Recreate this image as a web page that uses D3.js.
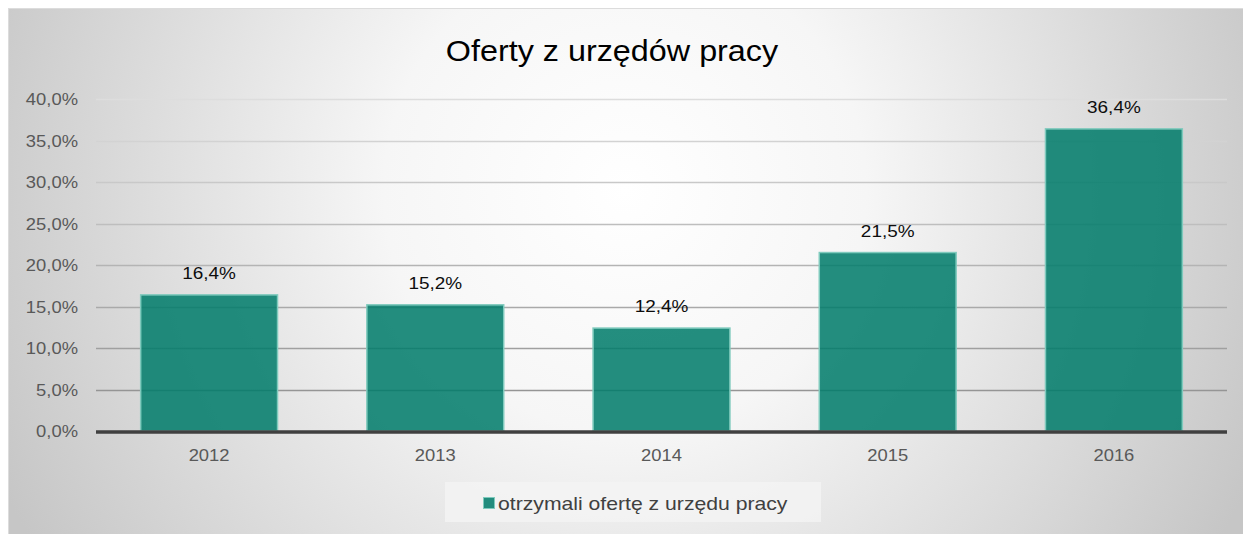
<!DOCTYPE html>
<html>
<head>
<meta charset="utf-8">
<script src="https://cdn.jsdelivr.net/npm/d3@7"></script>
<style>
  html, body { margin: 0; padding: 0; background: #ffffff; }
  svg { display: block; font-family: "Liberation Sans", Arial, sans-serif; }
</style>
</head>
<body>
<svg id="chart" width="1243" height="534"></svg>
<script>
const title = "Oferty z urzędów pracy";
const categories = ["2012", "2013", "2014", "2015", "2016"];
const values = [16.4, 15.2, 12.4, 21.5, 36.4];
const seriesName = "otrzymali ofertę z urzędu pracy";
const yTicks = [0, 5, 10, 15, 20, 25, 30, 35, 40];

const SX = 1.115; // horizontal text stretch seen in the reference
const fmt = v => v.toFixed(1).replace(".", ",") + "%";

const svg = d3.select("#chart");
const defs = svg.append("defs");

const bg = defs.append("radialGradient")
  .attr("id", "bgGrad")
  .attr("gradientUnits", "userSpaceOnUse")
  .attr("cx", 625).attr("cy", 190).attr("r", 690)
  .attr("fx", 625).attr("fy", 190);
bg.append("stop").attr("offset", "0").attr("stop-color", "#ffffff");
bg.append("stop").attr("offset", "0.35").attr("stop-color", "#f6f6f6");
bg.append("stop").attr("offset", "1").attr("stop-color", "#c6c6c6");

const gridGrad = defs.append("linearGradient")
  .attr("id", "gridGrad")
  .attr("gradientUnits", "userSpaceOnUse")
  .attr("x1", 0).attr("y1", 95).attr("x2", 0).attr("y2", 435);
gridGrad.append("stop").attr("offset", "0").attr("stop-color", "#dedede");
gridGrad.append("stop").attr("offset", "1").attr("stop-color", "#8a8a8a");

svg.append("rect")
  .attr("x", 8.5).attr("y", 8.5).attr("width", 1240).attr("height", 530)
  .attr("fill", "url(#bgGrad)")
  .attr("stroke", "#dcdcdc").attr("stroke-width", 1);

const x = d3.scaleBand()
  .domain(categories)
  .range([96, 1227])
  .paddingInner(0.395)
  .paddingOuter(0.1975);

const y = d3.scaleLinear().domain([0, 40]).range([431, 99]);

// gridlines
svg.append("g").selectAll("line")
  .data(yTicks.filter(t => t > 0))
  .join("line")
  .attr("x1", 96).attr("x2", 1227)
  .attr("y1", d => Math.round(y(d)) + 0.5).attr("y2", d => Math.round(y(d)) + 0.5)
  .attr("stroke", "url(#gridGrad)").attr("stroke-width", 1.3);

// y axis labels
const yAxis = d3.axisLeft(y).tickValues(yTicks).tickFormat(fmt).tickSize(0).tickPadding(0);
const yg = svg.append("g").attr("transform", "translate(78,0)").call(yAxis);
yg.select(".domain").remove();
yg.selectAll("text")
  .attr("font-family", "Liberation Sans, Arial, sans-serif")
  .attr("font-size", "16.5px")
  .attr("fill", "#595959")
  .attr("x", 0)
  .attr("dy", "0.35em")
  .attr("transform", `scale(${SX},1)`);

// bars
svg.append("g").selectAll("rect")
  .data(values)
  .join("rect")
  .attr("x", (d, i) => x(categories[i]))
  .attr("width", x.bandwidth())
  .attr("y", d => y(d))
  .attr("height", d => y(0) - y(d))
  .attr("fill", "rgb(0,123,106)")
  .attr("fill-opacity", 0.86)
  .attr("stroke", "#7fcabd")
  .attr("stroke-width", 1.5);

// data labels
svg.append("g").selectAll("text")
  .data(values)
  .join("text")
  .attr("transform", (d, i) => `translate(${x(categories[i]) + x.bandwidth() / 2},${y(d) - 16}) scale(${SX},1)`)
  .attr("text-anchor", "middle")
  .attr("font-size", "17px")
  .attr("fill", "#0d0d0d")
  .text(fmt);

// x axis
const xAxis = d3.axisBottom(x).tickSize(0).tickPadding(0);
const xg = svg.append("g").attr("transform", `translate(0,${y(0)})`).call(xAxis);
xg.select(".domain").remove();
xg.selectAll("text")
  .attr("font-family", "Liberation Sans, Arial, sans-serif")
  .attr("font-size", "16.5px")
  .attr("fill", "#595959")
  .attr("dy", "0")
  .attr("y", 30)
  .attr("transform", `scale(${SX},1)`);

svg.append("line")
  .attr("x1", 96).attr("x2", 1227)
  .attr("y1", y(0) + 1).attr("y2", y(0) + 1)
  .attr("stroke", "#404040").attr("stroke-width", 3.5);

// title
svg.append("text")
  .attr("transform", `translate(612,61) scale(${SX},1)`)
  .attr("text-anchor", "middle")
  .attr("font-size", "29px")
  .attr("fill", "#000000")
  .text(title);

// legend
const lg = svg.append("g");
lg.append("rect")
  .attr("x", 445).attr("y", 482).attr("width", 376).attr("height", 40)
  .attr("fill", "#f4f4f4").attr("fill-opacity", 0.8);
lg.append("rect")
  .attr("x", 483.5).attr("y", 497.5).attr("width", 11).attr("height", 11)
  .attr("fill", "rgb(0,123,106)").attr("fill-opacity", 0.86)
  .attr("stroke", "#7fcabd").attr("stroke-width", 1);
lg.append("text")
  .attr("transform", `translate(498,510) scale(${SX},1)`)
  .attr("font-size", "19px")
  .attr("fill", "#404040")
  .text(seriesName);
</script>
</body>
</html>
